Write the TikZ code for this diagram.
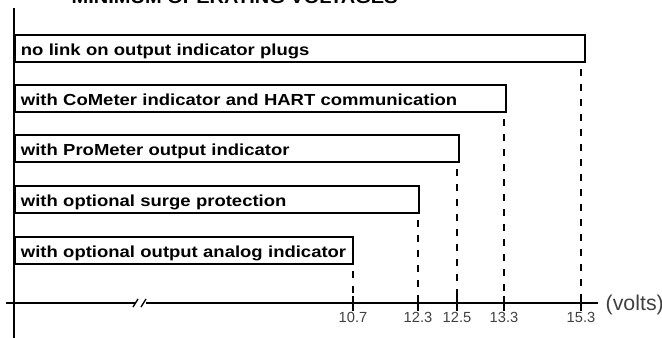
\documentclass[tikz,border=0pt]{standalone}
\usepackage{fontspec}
\setmainfont{Liberation Sans}
\newfontfamily\boxfont[FakeStretch=1.155]{Liberation Sans}
\usepackage{tikz}
\usetikzlibrary{calc}
\colorlet{scalecolor}{black!75}
\tikzstyle{barbox} = [
    draw=black,
    line width=1.4pt,
    anchor=north west,
    minimum height=20.25pt,
    inner xsep=4.5pt,
    inner ysep=0pt,
    text height=12pt,
    text depth=1.5pt,
    align=left,
    font=\boxfont\bfseries\fontsize{12}{14}\selectfont
    ]
\tikzstyle{axisline} = [line width=1.4pt]
\tikzstyle{tickline} = [line width=1.4pt]
\tikzstyle{dashline} = [
    line width=1pt,
    dash pattern=on 5.25pt off 6pt,
    dash phase=6.75pt
    ]
\tikzstyle{scalelabel} = [
    anchor=base,
    text=scalecolor,
    font=\fontsize{11}{13}\selectfont
    ]

\begin{document}
\begin{tikzpicture}[x=0.75pt,y=-0.75pt]
\useasboundingbox (0,0) rectangle (662,338);
% title, cut by the page edge
\node[anchor=base west, font=\boxfont\bfseries\fontsize{13}{15}\selectfont] (title) at (67,4) {MINIMUM OPERATING VOLTAGES};
% axes
\draw[axisline] (14,8) -- (14,338);
\coordinate (xstart) at (6,303);
\coordinate (breakl) at (135,303);
\coordinate (breakr) at (146,303);
\coordinate (xend) at (598,303);
\draw[axisline] (xstart) -- (breakl);
\draw[axisline] (breakr) -- (xend);
\draw[line width=1pt] (133,307) -- (138,299);
\draw[line width=1pt] (141,307) -- (146,299);
\node[anchor=base west, text=scalecolor, font=\fontsize{16}{18}\selectfont] (volts) at (601,310.5) {(volts)};
% bars
\node[barbox, text width=418.5pt] (b1) at (14,34) {no link on output indicator plugs};
\node[barbox, text width=359.25pt] (b2) at (14,84) {with CoMeter indicator and HART communication};
\node[barbox, text width=324pt] (b3) at (14,134) {with ProMeter output indicator};
\node[barbox, text width=294pt] (b4) at (14,185) {with optional surge protection};
\node[barbox, text width=244.5pt] (b5) at (14,236) {with optional output analog indicator};
% ticks and values
\foreach \b/\x/\lab in {b5/353/10.7, b4/418/12.3, b3/457/12.5, b2/504/13.3, b1/581/15.3}{
    \coordinate (t\b) at (\x,303);
    \draw[dashline] (t\b |- \b.south) -- (t\b);
    \draw[tickline] (t\b) ++(0,-7) -- ++(0,15);
    \node[scalelabel] (l\b) at (\x,323) {\lab};
}
\end{tikzpicture}
\end{document}
